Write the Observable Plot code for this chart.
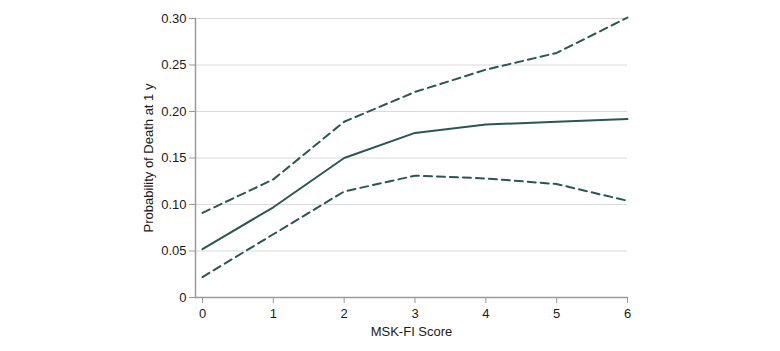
<!DOCTYPE html>
<html><head><meta charset="utf-8">
<script src="https://cdn.jsdelivr.net/npm/d3@7"></script>
<script src="https://cdn.jsdelivr.net/npm/@observablehq/plot@0.6"></script>
<style>
body{margin:0;background:#fff;}
svg{font-family:"Liberation Sans",Arial,sans-serif;}
</style>
</head><body>
<div id="chart"></div>
<script>
const scores = [0, 1, 2, 3, 4, 5, 6];
const estimate = [0.052, 0.097, 0.150, 0.177, 0.186, 0.189, 0.192];
const upper = [0.091, 0.127, 0.189, 0.221, 0.245, 0.263, 0.301];
const lower = [0.022, 0.068, 0.114, 0.131, 0.128, 0.122, 0.104];
const yTicks = [0, 0.05, 0.10, 0.15, 0.20, 0.25, 0.30];

const rows = (vals, s) => scores.map((x, i) => ({x, y: vals[i], s}));
const est = rows(estimate, "est");
const up = rows(upper, "up");
const lo = rows(lower, "lo");
const color = "#2d5651";
const yFmt = d => d === 0 ? "0" : d.toFixed(2);
const xFmt = d => String(d);

const chart = Plot.plot({
  width: 780,
  height: 351,
  marginLeft: 195,
  marginRight: 153,
  marginTop: 18,
  marginBottom: 54,
  insetLeft: 7,
  style: {fontSize: "13px", fontFamily: "'Liberation Sans', Arial, sans-serif", color: "#1a1a1a"},
  x: {domain: [0, 6]},
  y: {domain: [0, 0.30]},
  marks: [
    Plot.gridY(yTicks.filter(d => d > 0), {stroke: "#d9d9d9", strokeOpacity: 1, strokeWidth: 1}),
    Plot.frame({anchor: "left", stroke: "#9a9a9a", strokeWidth: 1.5}),
    Plot.frame({anchor: "bottom", stroke: "#9a9a9a", strokeWidth: 1.5}),
    Plot.axisY({ticks: yTicks, tickFormat: yFmt, tickSize: 6, tickPadding: 3, stroke: "#9a9a9a", label: "Probability of Death at 1 y", labelAnchor: "center", labelArrow: "none", labelOffset: 52, fill: "#1a1a1a"}),
    Plot.axisX({ticks: scores, tickFormat: xFmt, tickSize: 6, tickPadding: 5, stroke: "#9a9a9a", label: "MSK-FI Score", labelAnchor: "center", labelArrow: "none", labelOffset: 38, fill: "#1a1a1a"}),
    Plot.line(up, {x: "x", y: "y", stroke: color, strokeWidth: 2, strokeDasharray: "8,5"}),
    Plot.line(lo, {x: "x", y: "y", stroke: color, strokeWidth: 2, strokeDasharray: "8,5"}),
    Plot.line(est, {x: "x", y: "y", stroke: color, strokeWidth: 2})
  ]
});
document.getElementById("chart").appendChild(chart);
</script>
</body></html>
